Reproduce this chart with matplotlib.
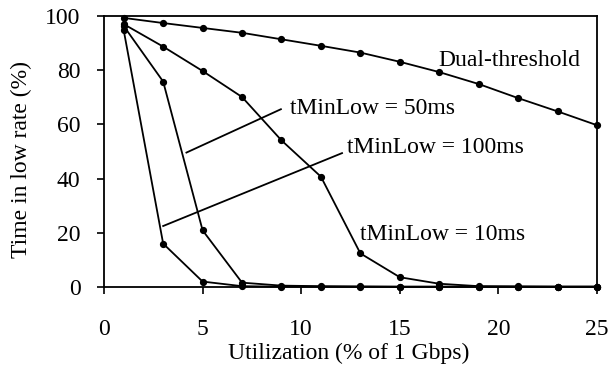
import matplotlib
matplotlib.use("Agg")
import matplotlib.pyplot as plt

# Utilization levels (% of 1 Gbps)
utilization = [1, 3, 5, 7, 9, 11, 13, 15, 17, 19, 21, 23, 25]

# Time spent in low rate (%) for each policy
dual_threshold = [99.3, 97.4, 95.6, 93.8, 91.4, 89.0, 86.5, 83.1, 79.3, 74.9, 69.7, 64.8, 59.7]
tminlow_10ms = [97.0, 88.7, 79.7, 70.1, 54.1, 40.7, 12.4, 3.6, 1.2, 0.3, 0.2, 0.1, 0.1]
tminlow_50ms = [96.3, 75.8, 20.9, 1.6, 0.5, 0.3, 0.2, 0.1, 0.1, 0.1, 0.1, 0.1, 0.1]
tminlow_100ms = [94.7, 16.0, 2.0, 0.3, 0.1, 0.1, 0.1, 0.1, 0.1, 0.1, 0.1, 0.1, 0.1]

x_ticks = [0, 5, 10, 15, 20, 25]
y_ticks = [0, 20, 40, 60, 80, 100]

plt.rcParams["font.family"] = ["Liberation Serif", "DejaVu Serif"]
FS = 17

fig = plt.figure(figsize=(6.10, 3.73), dpi=100)
ax = fig.add_axes([0.1705, 0.2306, 0.8082, 0.7265])

for series in (dual_threshold, tminlow_10ms, tminlow_50ms, tminlow_100ms):
    ax.plot(utilization, series, color="black", linewidth=1.3,
            marker="o", markersize=4.2, clip_on=False, zorder=3)

ax.set_xlim(0, 25)
ax.set_ylim(0, 100)
ax.set_xticks(x_ticks)
ax.set_yticks(y_ticks)
ax.tick_params(direction="out", length=5, width=1.2, labelsize=FS,
               color="black")
ax.tick_params(axis="x", pad=18)
ax.tick_params(axis="y", pad=12)
for side in ax.spines.values():
    side.set_linewidth(1.3)

ax.set_xlabel("Utilization (% of 1 Gbps)", fontsize=FS, va="center")
ax.set_ylabel("Time in low rate (%)", fontsize=FS, va="center")
ax.xaxis.set_label_coords(349 / 610, 1 - 353 / 373, transform=fig.transFigure)
ax.yaxis.set_label_coords(21 / 610, 1 - 160 / 373, transform=fig.transFigure)

# Curve labels with leader lines
ax.text(16.97, 83.6, "Dual-threshold", fontsize=FS, va="center", ha="left")
ax.text(9.45, 65.7, "tMinLow = 50ms", fontsize=FS, va="center", ha="left")
ax.plot([4.18, 8.97], [49.6, 65.6], color="black", linewidth=1.3)
ax.text(12.3, 51.4, "tMinLow = 100ms", fontsize=FS, va="center", ha="left")
ax.plot([3.0, 12.07], [22.5, 49.4], color="black", linewidth=1.3)
ax.text(12.97, 19.5, "tMinLow = 10ms", fontsize=FS, va="center", ha="left")

fig.savefig("out.png", dpi=100)
